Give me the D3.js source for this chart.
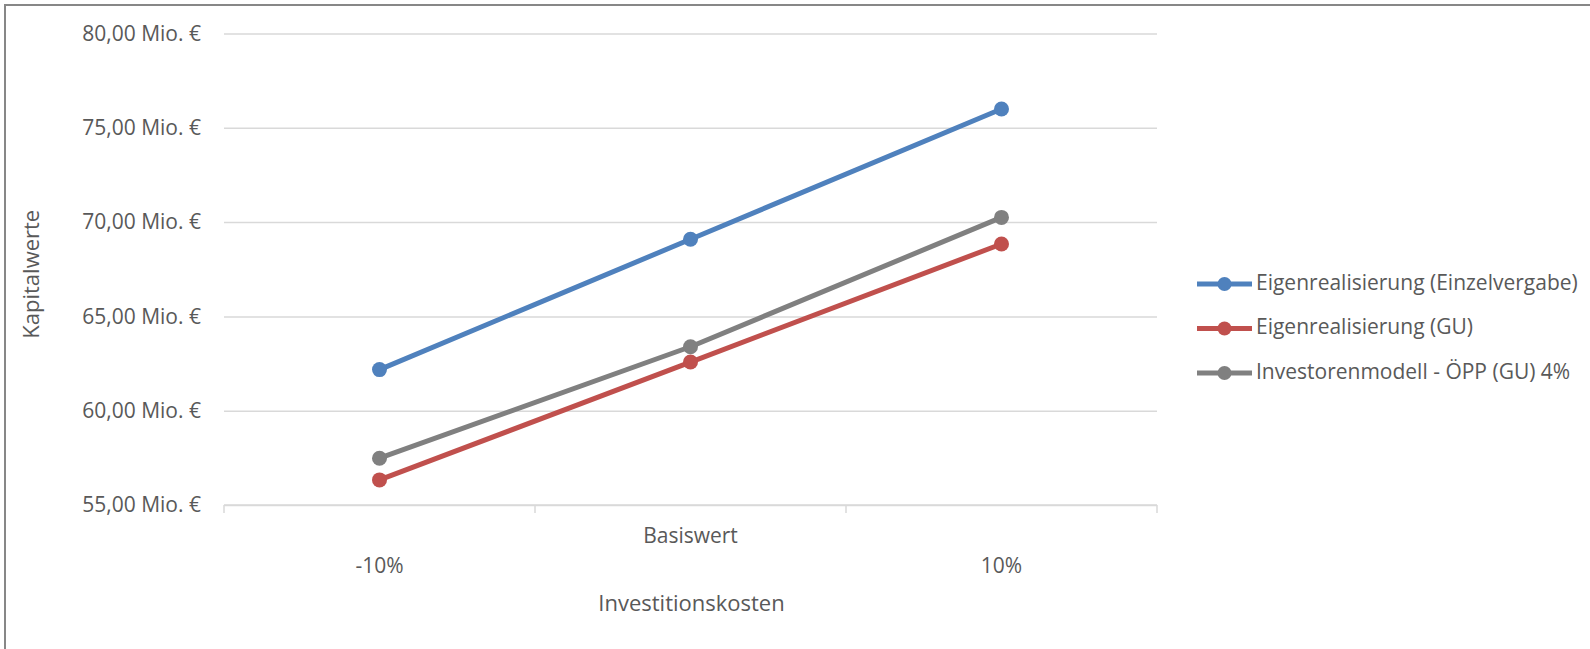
<!DOCTYPE html>
<html>
<head>
<meta charset="utf-8">
<script src="https://cdn.jsdelivr.net/npm/d3@7"></script>
<style>
  body { margin: 0; background: #fff; }
  svg text { font-family: "Open Sans", sans-serif; fill: #595959; }
</style>
</head>
<body>
<svg></svg>
<script>
const svgWidth = 1590;
const svgHeight = 649;
const margin = { top: 33.5, right: 433, bottom: 144, left: 224 };
const width = svgWidth - margin.left - margin.right;
const height = svgHeight - margin.top - margin.bottom;

// Data
const categories = ["-10%", "Basiswert", "10%"];
const seriesNames = [
    "Eigenrealisierung (Einzelvergabe)",
    "Eigenrealisierung (GU)",
    "Investorenmodell - ÖPP (GU) 4%"
];
const einzelvergabe = [62.18, 69.09, 76.00];
const eigenGU = [56.33, 62.58, 68.84];
const investorenGU = [57.48, 63.39, 70.25];
const yTicks = [55, 60, 65, 70, 75, 80];
const colors = ["#4F81BD", "#C0504D", "#808080"];

const seriesValues = [einzelvergabe, eigenGU, investorenGU];

const root = d3.select("svg")
    .attr("width", svgWidth)
    .attr("height", svgHeight);

// Chart frame (only top and left edges visible in the picture)
root.append("rect")
    .attr("x", 5)
    .attr("y", 5)
    .attr("width", svgWidth + 20)
    .attr("height", svgHeight + 20)
    .attr("fill", "none")
    .attr("stroke", "#878787")
    .attr("stroke-width", 2);

const svg = root.append("g")
    .attr("transform", `translate(${margin.left},${margin.top})`);

// Scales
const xScale = d3.scaleBand()
    .domain(categories)
    .range([0, width])
    .padding(0);

const yScale = d3.scaleLinear()
    .domain([d3.min(yTicks), d3.max(yTicks)])
    .range([height, 0]);

// Horizontal gridlines + y labels
const yAxis = svg.append("g")
    .call(d3.axisLeft(yScale)
        .tickValues(yTicks)
        .tickSize(-width)
        .tickPadding(23)
        .tickFormat(d => d3.format(".2f")(d).replace(".", ",") + " Mio. €"));
yAxis.select(".domain").remove();
yAxis.selectAll(".tick line")
    .attr("stroke", "#D9D9D9")
    .attr("stroke-width", 1.5);
yAxis.selectAll(".tick text")
    .style("font-size", "21px")
    .style("fill", "#595959");

// Category axis: baseline plus tick marks between categories
const xAxis = svg.append("g")
    .attr("transform", `translate(0,${height})`);
xAxis.append("line")
    .attr("x1", 0)
    .attr("x2", width)
    .attr("stroke", "#D9D9D9")
    .attr("stroke-width", 1.5);
const boundaries = categories.map(c => xScale(c)).concat([width]);
xAxis.selectAll(".xtick")
    .data(boundaries)
    .enter()
    .append("line")
    .attr("class", "xtick")
    .attr("x1", d => d)
    .attr("x2", d => d)
    .attr("y1", 0)
    .attr("y2", 8)
    .attr("stroke", "#D9D9D9")
    .attr("stroke-width", 1.5);

// Staggered category labels
xAxis.selectAll(".xlabel")
    .data(categories)
    .enter()
    .append("text")
    .attr("class", "xlabel")
    .attr("x", d => xScale(d) + xScale.bandwidth() / 2)
    .attr("y", (d, i) => i % 2 === 1 ? 32 : 62)
    .attr("dominant-baseline", "middle")
    .style("text-anchor", "middle")
    .style("font-size", "21px")
    .text(d => d);

// Lines and markers
const line = d3.line()
    .x((d, i) => xScale(categories[i]) + xScale.bandwidth() / 2)
    .y(d => yScale(d));

seriesValues.forEach((vals, s) => {
    svg.append("path")
        .datum(vals)
        .attr("fill", "none")
        .attr("stroke", colors[s])
        .attr("stroke-width", 5)
        .attr("stroke-linejoin", "round")
        .attr("d", line);

    svg.selectAll(`.pt${s}`)
        .data(vals)
        .enter()
        .append("circle")
        .attr("class", `pt${s}`)
        .attr("cx", (d, i) => xScale(categories[i]) + xScale.bandwidth() / 2)
        .attr("cy", d => yScale(d))
        .attr("r", 7.5)
        .attr("fill", colors[s]);
});

// Axis titles
svg.append("text")
    .attr("x", width / 2 + 1)
    .attr("y", height + 100)
    .attr("dominant-baseline", "middle")
    .style("text-anchor", "middle")
    .style("font-size", "22px")
    .text("Investitionskosten");

svg.append("text")
    .attr("transform", "rotate(-90)")
    .attr("x", -height / 2 - 5)
    .attr("y", -margin.left + 33)
    .attr("dominant-baseline", "middle")
    .style("text-anchor", "middle")
    .style("font-size", "22px")
    .text("Kapitalwerte");

// Legend
const legend = root.append("g")
    .attr("transform", "translate(1197,284)");
const rows = legend.selectAll(".row")
    .data(seriesNames)
    .enter()
    .append("g")
    .attr("class", "row")
    .attr("transform", (d, i) => `translate(0,${i * 44.5})`);
rows.append("line")
    .attr("x1", 0)
    .attr("x2", 55)
    .attr("stroke", (d, i) => colors[i])
    .attr("stroke-width", 5);
rows.append("circle")
    .attr("cx", 27.5)
    .attr("r", 7)
    .attr("fill", (d, i) => colors[i]);
rows.append("text")
    .attr("x", 59)
    .attr("dominant-baseline", "middle")
    .style("font-size", "21px")
    .text(d => d);
</script>
</body>
</html>
